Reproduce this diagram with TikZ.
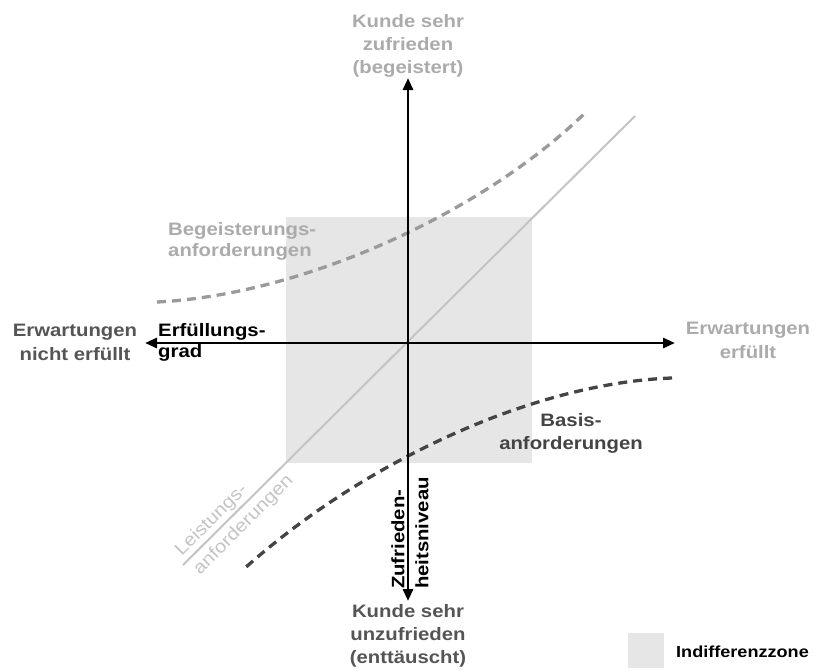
\documentclass[tikz,border=0pt]{standalone}
\usepackage{fontspec}
\setmainfont{Liberation Sans}[FakeStretch=1.13]
\usetikzlibrary{arrows.meta}
\definecolor{cZone}{HTML}{E6E6E6}
\definecolor{cLight}{HTML}{ABABAB}
\definecolor{cFaint}{HTML}{C4C4C4}
\definecolor{cMid}{HTML}{555555}
\definecolor{cDark}{HTML}{444444}
\definecolor{cDash}{HTML}{9A9A9A}
\begin{document}
\begin{tikzpicture}[x=1pt,y=-1pt,
  lbl/.style={inner sep=0pt, font=\bfseries\fontsize{18}{23}\selectfont, align=center},
  axisline/.style={line width=2.8pt, {Triangle[length=12pt,width=10pt]}-{Triangle[length=12pt,width=10pt]}},
  dashcurve/.style={line width=3.3pt, dash pattern=on 9pt off 6pt},
  zone/.style={fill=cZone}]
\useasboundingbox (0,0) rectangle (813,670);
% indifference zone
\fill[zone] (286,217) rectangle (532,463);
% linear requirement line
\coordinate (d1) at (183,565);
\coordinate (d2) at (635,116);
\draw[cFaint, line width=2pt] (d1) -- (d2);
% curves
\coordinate (u1) at (157,302);
\coordinate (u2) at (585,113);
\draw[dashcurve, cDash] (u1) .. controls (300,295) and (480,215) .. (u2);
\coordinate (b1) at (672,378);
\coordinate (b2) at (245,568);
\draw[dashcurve, cDark] (b1) .. controls (530,383) and (360,465) .. (b2);
% axes
\coordinate (top) at (408,78);
\coordinate (bot) at (408,601);
\coordinate (lft) at (145,343);
\coordinate (rgt) at (675,343);
\draw[axisline] (bot) -- (top);
\draw[axisline] (lft) -- (rgt);
% texts
\node[lbl, text=cLight, anchor=north] (tTop) at (408,14) {Kunde sehr\\zufrieden\\(begeistert)};
\node[lbl, text=cMid, anchor=north] (tBot) at (408,604) {Kunde sehr\\unzufrieden\\(enttäuscht)};
\node[lbl, text=cMid, anchor=north, font=\bfseries\fontsize{18}{24}\selectfont] (tLeft) at (75,324) {Erwartungen\\nicht erfüllt};
\node[lbl, text=cLight, anchor=north, font=\bfseries\fontsize{18}{24}\selectfont] (tRight) at (748,322) {Erwartungen\\erfüllt};
\node[lbl, text=black, anchor=north west, align=left, font=\bfseries\fontsize{18}{21}\selectfont] (tGrad) at (158,323) {Erfüllungs-\\grad};
\node[lbl, text=cLight, anchor=north west, align=left, font=\bfseries\fontsize{18}{21}\selectfont] (tBeg) at (168,222) {Begeisterungs-\\anforderungen};
\node[lbl, text=cDark, anchor=north] (tBas) at (571,413) {Basis-\\anforderungen};
\node[inner sep=0pt, text=cFaint, rotate=45, align=left, font=\fontsize{18}{26}\selectfont] (tLei) at (234.5,516) {Leistungs-\\anforderungen};
\node[lbl, text=black, rotate=90, align=left, font=\bfseries\fontsize{18}{24}\selectfont] (tZuf) at (410,533) {Zufrieden-\\heitsniveau};
% legend
\fill[zone] (628,633) rectangle (664,668);
\node[inner sep=0pt, anchor=west, font=\bfseries\fontsize{16}{19}\selectfont] (tLeg) at (676,652) {Indifferenzzone};
\end{tikzpicture}
\end{document}
